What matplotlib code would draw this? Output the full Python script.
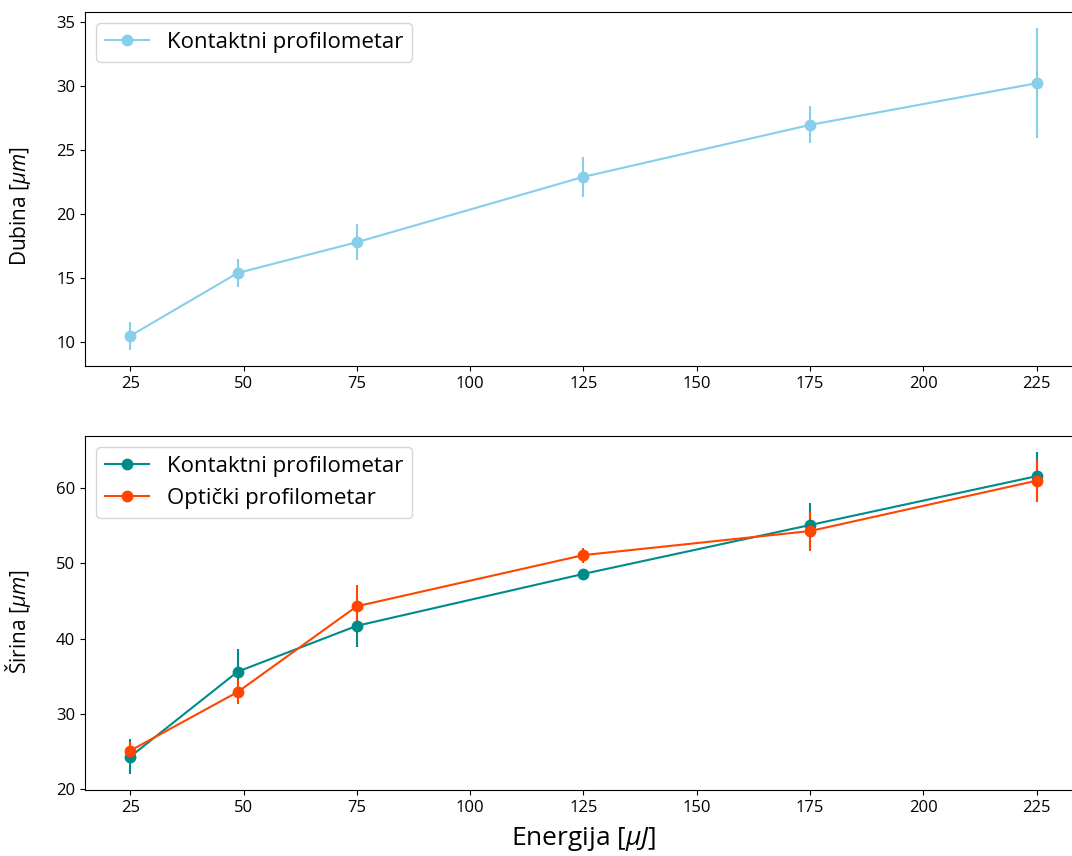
import matplotlib
matplotlib.use("Agg")
import matplotlib.pyplot as plt

plt.rcParams['font.family'] = ['Open Sans', 'DejaVu Sans']
plt.rcParams['mathtext.fontset'] = 'custom'
plt.rcParams['mathtext.rm'] = 'Open Sans'
plt.rcParams['mathtext.it'] = 'Open Sans:italic'

energija = [25, 48.7, 75, 125, 175, 225]

dubina_kontakt = [10.5, 15.4, 17.8, 22.9, 26.95, 30.2]
dubina_kontakt_err = [1.1, 1.1, 1.4, 1.55, 1.45, 4.3]

sirina_kontakt = [24.3, 35.6, 41.7, 48.6, 55.1, 61.6]
sirina_kontakt_err = [2.3, 3.0, 2.8, 0.3, 2.9, 3.2]
sirina_opt = [25.1, 32.9, 44.3, 51.1, 54.3, 61.0]
sirina_opt_err = [1.2, 1.6, 2.8, 1.0, 2.6, 2.9]

fig = plt.figure(figsize=(10.72, 8.56), dpi=100)
W, H = 1072, 856
left = 85 / W
right = 1082 / W
ax1 = fig.add_axes([left, 1 - 366 / H, right - left, (366 - 12) / H])
ax2 = fig.add_axes([left, 1 - 790 / H, right - left, (790 - 436) / H])

ms = 7.5
lw = 1.5
e1 = ax1.errorbar(energija, dubina_kontakt, yerr=dubina_kontakt_err, fmt='-o',
                  color='skyblue', ms=ms, lw=lw, elinewidth=lw,
                  label='Kontaktni profilometar')
e2 = ax2.errorbar(energija, sirina_kontakt, yerr=sirina_kontakt_err, fmt='-o',
                  color='darkcyan', ms=ms, lw=lw, elinewidth=lw,
                  label='Kontaktni profilometar')
e3 = ax2.errorbar(energija, sirina_opt, yerr=sirina_opt_err, fmt='-o',
                  color='orangered', ms=ms, lw=lw, elinewidth=lw,
                  label='Optički profilometar')

ax1.legend(handles=[e1[0]], labels=['Kontaktni profilometar'],
           loc='upper left', fontsize=16)
ax2.legend(handles=[e2[0], e3[0]],
           labels=['Kontaktni profilometar', 'Optički profilometar'],
           loc='upper left', fontsize=16)

for ax in (ax1, ax2):
    ax.set_xticks([25, 50, 75, 100, 125, 150, 175, 200, 225])
    ax.tick_params(labelsize=12)

ax1.set_yticks([10, 15, 20, 25, 30, 35])
ax2.set_yticks([20, 30, 40, 50, 60])
ax1.set_ylabel(r'Dubina [$\mu m$]', fontsize=15)
ax2.set_ylabel(r'Širina [$\mu m$]', fontsize=15)
ax1.yaxis.set_label_coords(-0.052, 0.453)
ax2.yaxis.set_label_coords(-0.052, 0.475)
ax2.set_xlabel(r'Energija [$\mu J$]', fontsize=19, labelpad=7)

fig.savefig('out.png', dpi=100)
